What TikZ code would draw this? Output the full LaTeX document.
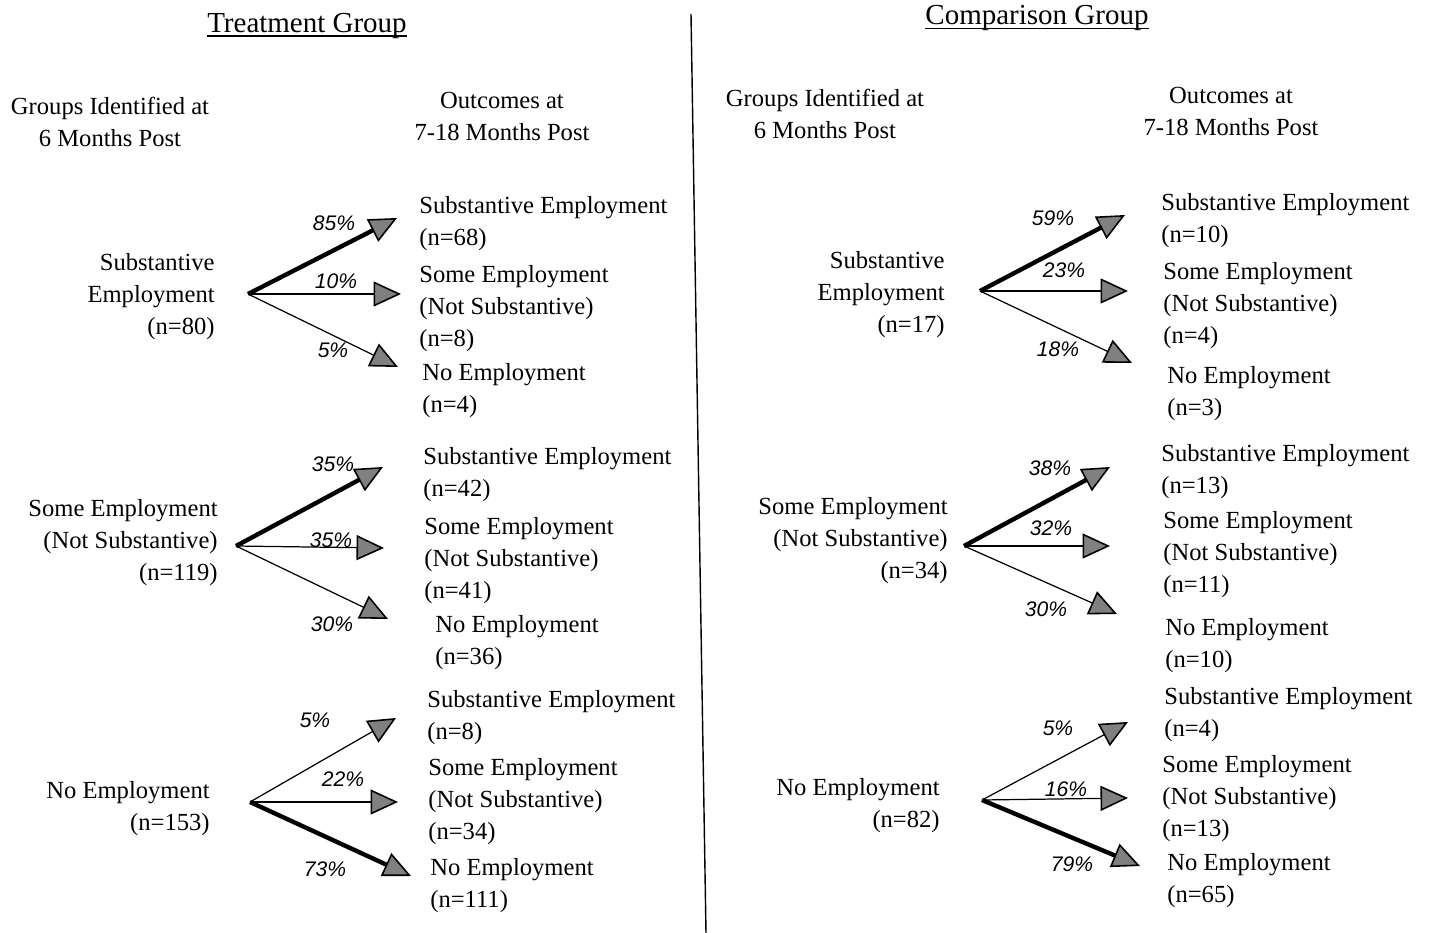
\documentclass[tikz,border=0pt]{standalone}
\usepackage{fontspec}
\setmainfont{Liberation Serif}
\setsansfont{Liberation Sans}
\usetikzlibrary{arrows.meta,positioning}

\begin{document}
\begin{tikzpicture}
[x=0.02cm,y=-0.02cm,
 txt/.style={font=\fontsize{14}{18.2}\selectfont,inner sep=0pt},
 srctext/.style={txt,align=right,anchor=east},
 outtext/.style={txt,align=left,anchor=west},
 headtext/.style={txt,align=center},
 titletext/.style={font=\fontsize{16.5}{19}\selectfont,inner sep=0pt,anchor=base},
 pct/.style={font=\fontsize{12}{14}\selectfont\sffamily\itshape,inner sep=0pt},
 triarrow/.style={-{Triangle[length=0.55cm,width=0.5cm,fill=black!50,line width=0.9pt]}},
 thinarrow/.style={triarrow,line width=0.7pt},
 thkarrow/.style={triarrow,line width=2.5pt}]
\useasboundingbox (0,0) rectangle (1431,933);

% titles and column heads
\node[titletext] (ttitle) at (307,32) {Treatment Group};
\node[titletext] (ctitle) at (1037,25) {Comparison Group};
\draw [line width=0.7pt] ([yshift=-0.08cm]ttitle.base west) -- ([yshift=-0.08cm]ttitle.base east);
\draw [line width=0.7pt] ([yshift=-0.07cm]ctitle.base west) -- ([yshift=-0.07cm]ctitle.base east);
\node[headtext] (thead1) at (110,122) {Groups Identified at\\6 Months Post};
\node[headtext] (thead2) at (502,116) {Outcomes at\\7-18 Months Post};
\node[headtext] (chead1) at (825,114) {Groups Identified at\\6 Months Post};
\node[headtext] (chead2) at (1231,111) {Outcomes at\\7-18 Months Post};

\coordinate (divtop) at (691,14);
\coordinate (divbot) at (706,933);
\draw [line width=0.8pt] (divtop) -- (divbot);

% treatment group
\node[srctext] (tsub) at (215,297) {Substantive\\Employment\\(n=80)};
\coordinate (ts0) at (248,294);
\coordinate (ts1) at (397,218);
\coordinate (ts2) at (401,294);
\coordinate (ts3) at (398,367);
\node[outtext] (tsub1) at (419,224) {Substantive Employment\\(n=68)};
\node[outtext] (tsub2) at (419,309) {Some Employment\\(Not Substantive)\\(n=8)};
\node[outtext] (tsub3) at (422,391) {No Employment\\(n=4)};
\node[pct] (tsp1) at (334,223) {85\%};
\node[pct] (tsp2) at (336,281) {10\%};
\node[pct] (tsp3) at (333,350) {5\%};
\draw [thkarrow] (ts0) -- (ts1);
\draw [thinarrow] (ts0) -- (ts2);
\draw [thinarrow] (ts0) -- (ts3);

\node[srctext] (tsome) at (218,543) {Some Employment\\(Not Substantive)\\(n=119)};
\coordinate (tm0) at (236,546);
\coordinate (tm1) at (383,467);
\coordinate (tm2) at (384,548);
\coordinate (tm3) at (388,619);
\node[outtext] (tsome1) at (423,475) {Substantive Employment\\(n=42)};
\node[outtext] (tsome2) at (424,561) {Some Employment\\(Not Substantive)\\(n=41)};
\node[outtext] (tsome3) at (435,643) {No Employment\\(n=36)};
\node[pct] (tmp1) at (333,464) {35\%};
\node[pct] (tmp2) at (331,540) {35\%};
\node[pct] (tmp3) at (332,624) {30\%};
\draw [thkarrow] (tm0) -- (tm1);
\draw [thinarrow] (tm0) -- (tm2);
\draw [thinarrow] (tm0) -- (tm3);

\node[srctext] (tno) at (210,809) {No Employment\\(n=153)};
\coordinate (tn0) at (250,802);
\coordinate (tn1) at (396,718);
\coordinate (tn2) at (398,802);
\coordinate (tn3) at (411,876);
\node[outtext] (tno1) at (427,718) {Substantive Employment\\(n=8)};
\node[outtext] (tno2) at (428,802) {Some Employment\\(Not Substantive)\\(n=34)};
\node[outtext] (tno3) at (430,886) {No Employment\\(n=111)};
\node[pct] (tnp1) at (315,720) {5\%};
\node[pct] (tnp2) at (343,779) {22\%};
\node[pct] (tnp3) at (325,869) {73\%};
\draw [thinarrow] (tn0) -- (tn1);
\draw [thinarrow] (tn0) -- (tn2);
\draw [thkarrow] (tn0) -- (tn3);

% comparison group
\node[srctext] (csub) at (945,295) {Substantive\\Employment\\(n=17)};
\coordinate (cs0) at (980,291);
\coordinate (cs1) at (1125,215);
\coordinate (cs2) at (1128,291);
\coordinate (cs3) at (1132,363);
\node[outtext] (csub1) at (1161,221) {Substantive Employment\\(n=10)};
\node[outtext] (csub2) at (1163,306) {Some Employment\\(Not Substantive)\\(n=4)};
\node[outtext] (csub3) at (1167,394) {No Employment\\(n=3)};
\node[pct] (csp1) at (1053,218) {59\%};
\node[pct] (csp2) at (1064,270) {23\%};
\node[pct] (csp3) at (1058,349) {18\%};
\draw [thkarrow] (cs0) -- (cs1);
\draw [thinarrow] (cs0) -- (cs2);
\draw [thinarrow] (cs0) -- (cs3);

\node[srctext] (csome) at (948,541) {Some Employment\\(Not Substantive)\\(n=34)};
\coordinate (cm0) at (964,546);
\coordinate (cm1) at (1110,467);
\coordinate (cm2) at (1110,546);
\coordinate (cm3) at (1117,614);
\node[outtext] (csome1) at (1161,472) {Substantive Employment\\(n=13)};
\node[outtext] (csome2) at (1163,555) {Some Employment\\(Not Substantive)\\(n=11)};
\node[outtext] (csome3) at (1165,646) {No Employment\\(n=10)};
\node[pct] (cmp1) at (1050,468) {38\%};
\node[pct] (cmp2) at (1051,528) {32\%};
\node[pct] (cmp3) at (1046,609) {30\%};
\draw [thkarrow] (cm0) -- (cm1);
\draw [thinarrow] (cm0) -- (cm2);
\draw [thinarrow] (cm0) -- (cm3);

\node[srctext] (cno) at (940,806) {No Employment\\(n=82)};
\coordinate (cn0) at (982,800);
\coordinate (cn1) at (1128,722);
\coordinate (cn2) at (1128,798);
\coordinate (cn3) at (1140,866);
\node[outtext] (cno1) at (1164,715) {Substantive Employment\\(n=4)};
\node[outtext] (cno2) at (1162,799) {Some Employment\\(Not Substantive)\\(n=13)};
\node[outtext] (cno3) at (1167,881) {No Employment\\(n=65)};
\node[pct] (cnp1) at (1058,728) {5\%};
\node[pct] (cnp2) at (1066,789) {16\%};
\node[pct] (cnp3) at (1072,864) {79\%};
\draw [thinarrow] (cn0) -- (cn1);
\draw [thinarrow] (cn0) -- (cn2);
\draw [thkarrow] (cn0) -- (cn3);
\end{tikzpicture}
\end{document}
